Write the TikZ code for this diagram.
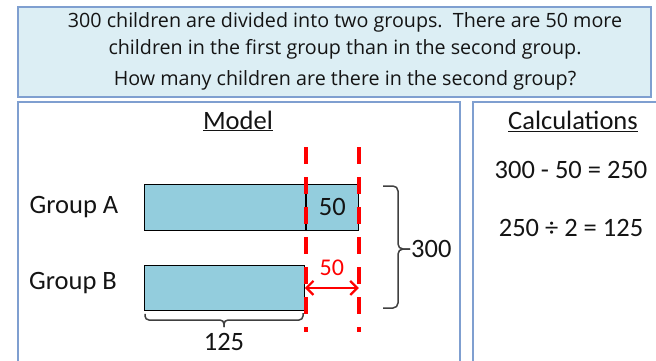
\documentclass[tikz,border=0pt]{standalone}
\usepackage{fontspec}
\setmainfont{Carlito}
\newfontfamily\questfont{Open Sans}
\usetikzlibrary{arrows.meta,positioning,calc}
\definecolor{frame}{HTML}{7F9FD0}
\definecolor{qfill}{HTML}{DCEEF4}
\definecolor{barfill}{HTML}{93CDDD}
\definecolor{cut}{HTML}{FF0000}
\definecolor{brace}{HTML}{404040}
\definecolor{ink}{HTML}{141414}
\tikzset{
  every node/.style={font=\fontsize{26.5}{31}\selectfont,text=ink},
  panel/.style={draw=frame,line width=1.5pt},
  question/.style={font=\questfont\fontsize{19.7}{24}\selectfont,inner sep=0},
  bar/.style={draw=black,line width=.9pt,fill=barfill,minimum height=46pt,inner sep=0},
  cutline/.style={draw=cut,line width=4pt,dash pattern=on 17pt off 13pt},
  gap/.style={{Straight Barb[length=7pt,width=14pt]}-{Straight Barb[length=7pt,width=14pt]},draw=cut,line width=2.2pt},
  bracket/.style={draw=brace,line width=1.5pt,rounded corners=5pt},
  heading/.style={font=\fontsize{26.5}{31}\selectfont,inner sep=0}
}
\begin{document}
\begin{tikzpicture}[x=1pt,y=-1pt]
  \path[use as bounding box] (0,0) rectangle (656,360);
  \draw[panel,fill=qfill] (18,7) rectangle (651,97);
  \node[question] (q1) at (345,22) {300 children are divided into two groups.\ \ There are 50 more};
  \node[question] (q2) at (345,49) {children in the first group than in the second group.};
  \node[question] (q3) at (345,80) {How many children are there in the second group?};

  \draw[panel] (18,365) -- (18,102) -- (460,102) -- (460,365);
  \draw[panel] (473,365) -- (473,102) -- (662,102);
  \node[heading] (model) at (238,121) {\underline{Model}};
  \node[heading] (calc) at (573,121) {\underline{Calculations}};

  \node (grpA) at (74,207) {Group A};
  \node (grpB) at (73,283) {Group B};
  \node[bar,minimum width=161pt,anchor=north west] (barAmain) at (144,184) {};
  \node[bar,minimum width=52pt,right=0pt of barAmain] (barAext) {50};
  \node[bar,minimum width=160pt,minimum height=45pt,anchor=north west] (barB) at (144,265) {};

  \coordinate (cutLtop) at (barAmain.east |- 0,147);
  \coordinate (cutLbot) at (barAmain.east |- 0,332);
  \coordinate (cutRtop) at (barAext.east |- 0,147);
  \coordinate (cutRbot) at (barAext.east |- 0,332);
  \draw[cutline] (cutLtop) -- (cutLbot);
  \draw[cutline] (cutRtop) -- (cutRbot);

  \coordinate (gapend) at (barB.east -| barAext.east);
  \draw[gap] (barB.east) -- (gapend);
  \node[text=cut,font=\fontsize{24}{28}\selectfont,inner sep=0] (gapval) at ($(barB.east)!.5!(gapend)+(0,-20)$) {50};

  \coordinate (tip300) at (410,249);
  \draw[bracket] (383,186) -- (398,186) -- (398,249) -- (tip300);
  \draw[bracket] (383,308) -- (398,308) -- (398,249) -- (tip300);
  \node[right=1pt of tip300,inner sep=0] (total) {300};

  \coordinate (tip125) at (224,327);
  \draw[bracket,rounded corners=4pt] (barB.south west) ++(1,3) -- (145,320) -- (224,320) -- (tip125);
  \draw[bracket,rounded corners=4pt] (303,313) -- (303,320) -- (224,320) -- (tip125);
  \node[below=6pt of tip125,inner sep=0] (width125) {125};

  \node (step1) at (571,170) {300 - 50 = 250};
  \node (step2) at (571,228) {250 ÷ 2 = 125};
\end{tikzpicture}
\end{document}
